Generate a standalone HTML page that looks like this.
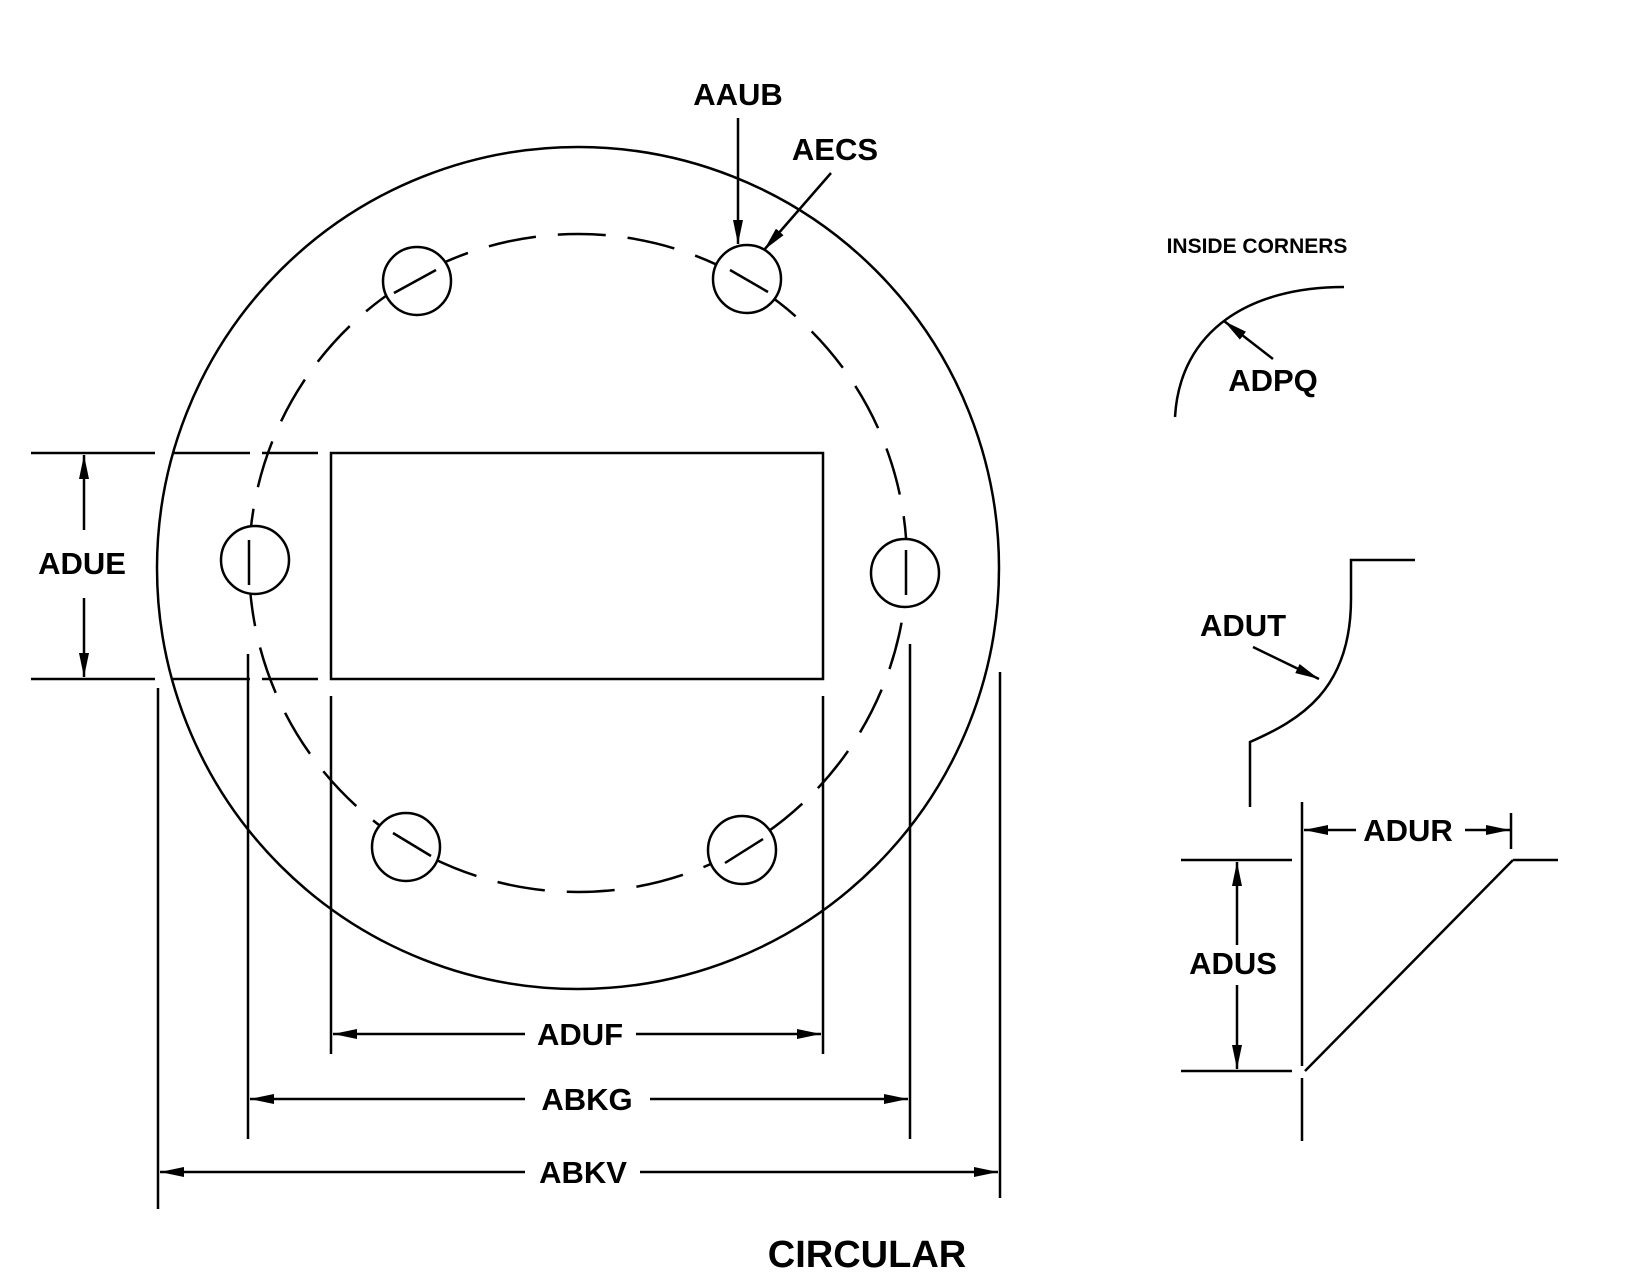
<!DOCTYPE html>
<html><head><style>html,body{margin:0;padding:0;background:#fff}svg{display:block}</style></head>
<body>
<svg width="1625" height="1287" viewBox="0 0 1625 1287" xmlns="http://www.w3.org/2000/svg">
<defs>
<marker id="a" viewBox="0 0 24 10" refX="24" refY="5" markerWidth="24" markerHeight="10" markerUnits="userSpaceOnUse" orient="auto"><path d="M0,0 L24,5 L0,10 Z" fill="#000"/></marker>
</defs>
<g fill="none" stroke="#000" stroke-width="2.5">
<circle cx="578" cy="568" r="421"/>
<circle cx="578" cy="563" r="329" stroke-dasharray="48,22" stroke-dashoffset="10"/>
<g fill="#fff">
<circle cx="417" cy="281" r="34"/><circle cx="747" cy="279" r="34"/>
<circle cx="255" cy="560" r="34"/><circle cx="905" cy="573" r="34"/>
<circle cx="406" cy="847" r="34"/><circle cx="742" cy="850" r="34"/>
</g>
<path d="M394,293 L436,270 M730,270 L768,292 M249,540 L249,585 M906,550 L906,595 M393,833 L431,856 M725,863 L763,839"/>
<rect x="331" y="453" width="492" height="226"/>
<path d="M31,453 H155 M172,453 H250 M262,453 H318 M31,679 H155 M172,679 H250 M262,679 H318"/>
<path d="M158,688 V1209 M248,654 V1139 M331,696 V1054 M823,696 V1054 M910,644 V1139 M1000,672 V1198"/>
<line x1="84" y1="530" x2="84" y2="455" marker-end="url(#a)"/>
<line x1="84" y1="598" x2="84" y2="677" marker-end="url(#a)"/>
<line x1="525" y1="1034" x2="333" y2="1034" marker-end="url(#a)"/>
<line x1="636" y1="1034" x2="821" y2="1034" marker-end="url(#a)"/>
<line x1="525" y1="1099" x2="250" y2="1099" marker-end="url(#a)"/>
<line x1="650" y1="1099" x2="908" y2="1099" marker-end="url(#a)"/>
<line x1="525" y1="1172" x2="160" y2="1172" marker-end="url(#a)"/>
<line x1="640" y1="1172" x2="998" y2="1172" marker-end="url(#a)"/>
<line x1="738" y1="118" x2="738" y2="244" marker-end="url(#a)"/>
<line x1="831" y1="173" x2="764" y2="250" marker-end="url(#a)"/>
<path d="M1175,417 C1180,330 1250,287 1344,287"/>
<line x1="1273" y1="359" x2="1224" y2="321" marker-end="url(#a)"/>
<path d="M1415,560 H1351 V599 C1351,690 1300,720 1250,742 V807"/>
<line x1="1253" y1="647" x2="1319" y2="679" marker-end="url(#a)"/>
<path d="M1302,802 V1066 M1302,1078 V1141 M1181,860 H1292 M1181,1071 H1292 M1513,860 H1558 M1513,860 L1305,1071 M1511,813 V849"/>
<line x1="1237" y1="945" x2="1237" y2="862" marker-end="url(#a)"/>
<line x1="1237" y1="985" x2="1237" y2="1069" marker-end="url(#a)"/>
<line x1="1356" y1="830" x2="1304" y2="830" marker-end="url(#a)"/>
<line x1="1465" y1="830" x2="1510" y2="830" marker-end="url(#a)"/>
</g>
<g font-family="Liberation Sans, sans-serif" font-weight="bold" font-size="31" text-anchor="middle" fill="#000">
<text x="738" y="105">AAUB</text>
<text x="835" y="160">AECS</text>
<text x="82" y="574">ADUE</text>
<text x="580" y="1045">ADUF</text>
<text x="587" y="1110">ABKG</text>
<text x="583" y="1183">ABKV</text>
<text x="1273" y="391">ADPQ</text>
<text x="1243" y="636">ADUT</text>
<text x="1408" y="841">ADUR</text>
<text x="1233" y="974">ADUS</text>
<text x="867" y="1267" font-size="38">CIRCULAR</text>
<text x="1257" y="253" font-size="21">INSIDE CORNERS</text>
</g>
</svg>
</body></html>
